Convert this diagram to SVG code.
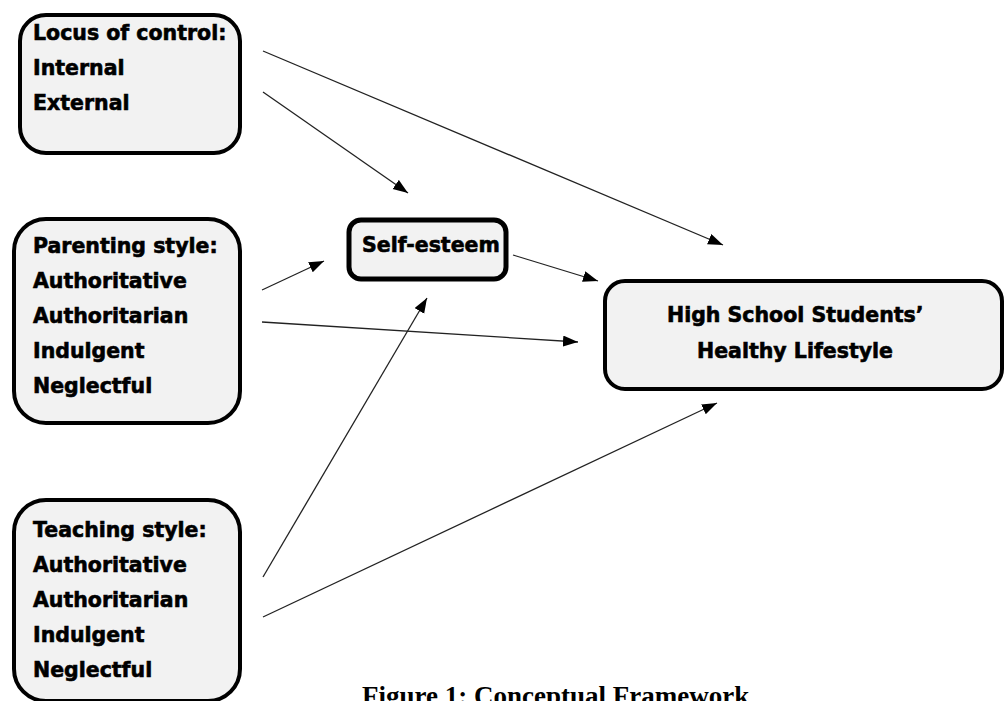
<svg xmlns="http://www.w3.org/2000/svg" width="1005" height="701" viewBox="0 0 1005 701">
<style>
.box{fill:#f2f2f2;stroke:#000;stroke-width:4}
.t{font-family:"DejaVu Sans",Verdana,sans-serif;font-weight:bold;font-size:20.5px;fill:#000;stroke:#000;stroke-width:0.6}
.c{stroke:#222;stroke-width:1.3;fill:none;marker-end:url(#ah)}
.cap{font-family:"Liberation Serif","Times New Roman",serif;font-weight:bold;font-size:27px;fill:#000}
</style>
<defs>
<marker id="ah" markerUnits="userSpaceOnUse" markerWidth="16" markerHeight="12" refX="15" refY="5.5" orient="auto">
<path d="M0,0 L15,5.5 L0,11 z" fill="#000"/>
</marker>
</defs>
<rect width="1005" height="701" fill="#fff"/>
<g id="connectors">
<line class="c" x1="263" y1="51" x2="723" y2="245"/>
<line class="c" x1="263" y1="92" x2="408" y2="193"/>
<line class="c" x1="262" y1="290" x2="324" y2="261"/>
<line class="c" x1="262" y1="322" x2="578" y2="342"/>
<line class="c" x1="513" y1="255" x2="598" y2="281"/>
<line class="c" x1="263" y1="577" x2="427" y2="298"/>
<line class="c" x1="263" y1="617" x2="717" y2="403"/>
</g>
<g id="locus">
<rect class="box" x="20" y="15" width="220" height="138" rx="26"/>
<text class="t" x="33" y="40">Locus of control:</text>
<text class="t" x="33" y="75">Internal</text>
<text class="t" x="33" y="110">External</text>
</g>
<g id="parenting">
<rect class="box" x="14" y="219" width="226" height="204" rx="32"/>
<text class="t" x="33" y="253">Parenting style:</text>
<text class="t" x="33" y="288">Authoritative</text>
<text class="t" x="33" y="323">Authoritarian</text>
<text class="t" x="33" y="358">Indulgent</text>
<text class="t" x="33" y="393">Neglectful</text>
</g>
<g id="teaching">
<rect class="box" x="14" y="500" width="226" height="201" rx="32"/>
<text class="t" x="33" y="537">Teaching style:</text>
<text class="t" x="33" y="572">Authoritative</text>
<text class="t" x="33" y="607">Authoritarian</text>
<text class="t" x="33" y="642">Indulgent</text>
<text class="t" x="33" y="677">Neglectful</text>
</g>
<g id="selfesteem">
<rect class="box" x="349" y="220" width="157" height="59" rx="12" style="stroke-width:5"/>
<text class="t" x="362" y="252">Self-esteem</text>
</g>
<g id="lifestyle">
<rect class="box" x="605" y="281" width="397" height="108" rx="20"/>
<text class="t" x="667" y="322">High School Students’</text>
<text class="t" x="697" y="358">Healthy Lifestyle</text>
</g>
<text class="cap" x="362" y="705">Figure 1: Conceptual Framework</text>
</svg>
